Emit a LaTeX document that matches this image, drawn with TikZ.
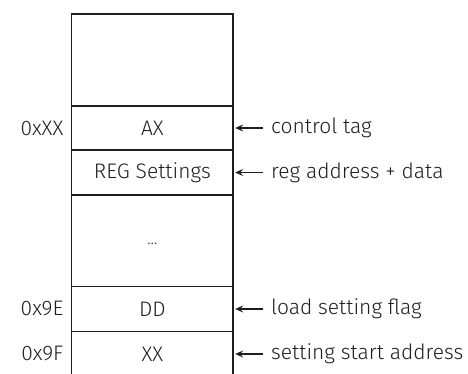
\documentclass[tikz,border=0pt]{standalone}
\usepackage{fontspec}
\setmainfont{Fira Sans Light}
\usetikzlibrary{arrows.meta,calc}
\begin{document}
\begin{tikzpicture}[x=1pt,y=-1pt,
  txt/.style={text=ink,font=\fontsize{21}{24}\selectfont},
  cell/.style={txt,minimum width=161.7pt,inner sep=0pt,outer sep=0pt},
  addr/.style={txt,anchor=east,inner sep=0pt},
  note/.style={txt,anchor=west,inner xsep=8pt,inner ysep=0pt},
  frame/.style={line width=1.6pt,draw=ink},
  pointer/.style={line width=1.1pt,draw=ink,-{Stealth[length=8pt,width=7pt,inset=3pt]},shorten >=2pt}]
\definecolor{ink}{HTML}{1E1E1E}
\useasboundingbox (0,0) rectangle (468,374);
\begin{scope}
\clip (0,0) rectangle (468,374);
% memory cells, top to bottom
\node[cell,minimum height=92pt]   (top)  at (152.35,60)    {};
\node[cell,minimum height=44pt]   (ax)   at (152.35,128)   {AX};
\node[cell,minimum height=45pt]   (reg)  at (152.35,172.5) {REG Settings};
\node[cell,minimum height=91.5pt] (gap)  at (152.35,240.75){\raisebox{-7pt}{\fontsize{16}{18}\selectfont...}};
\node[cell,minimum height=45pt]   (dd)   at (152.35,309)   {DD};
\node[cell,minimum height=45pt]   (xx)   at (152.35,354)   {XX};
% outline and separators (open at the bottom)
\draw[frame] (xx.south west) -- (top.north west) -- (top.north east) -- (xx.south east);
\foreach \c in {ax,reg,gap,dd,xx}
  \draw[frame] (\c.north west) -- (\c.north east);
\end{scope}
% addresses
\node[addr] (aax) at ($(ax.west)+(-8,0)$) {0xXX};
\node[addr] (add) at ($(dd.west)+(-8,0)$) {0x9E};
\node[addr] (axx) at ($(xx.west)+(-8,0)$) {0x9F};
% descriptions with pointers
\node[note] (nax)  at (263,128)   {control tag};
\node[note] (nreg) at (263,172.5) {reg address + data};
\node[note] (ndd)  at (263,309)   {load setting flag};
\node[note] (nxx)  at (263,354)   {setting start address};
\foreach \n/\c in {nax/ax,nreg/reg,ndd/dd,nxx/xx}
  \draw[pointer] (\n.west) -- (\c.east);
\end{tikzpicture}
\end{document}
